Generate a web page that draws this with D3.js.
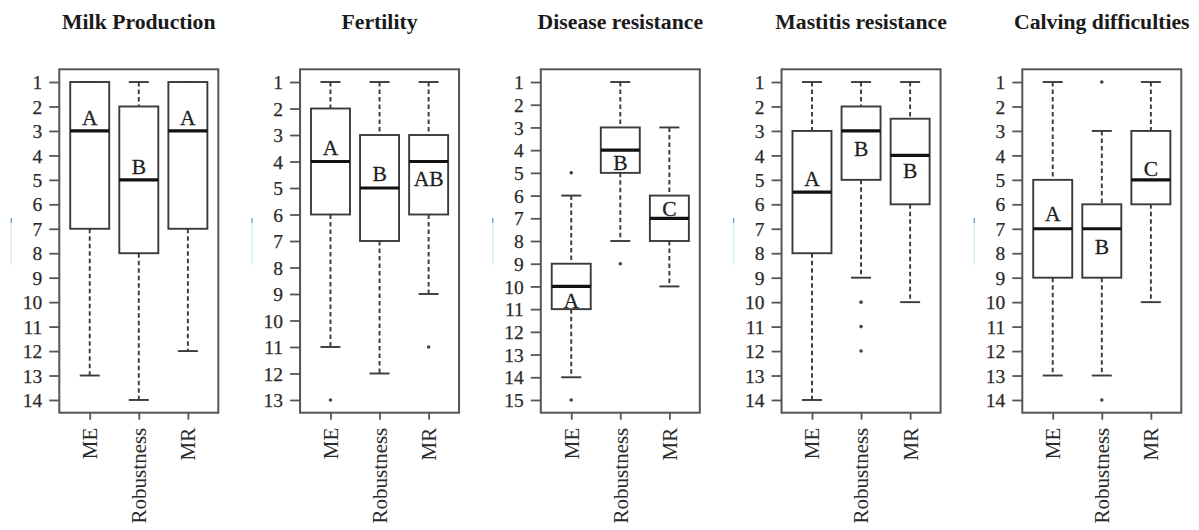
<!DOCTYPE html>
<html>
<head>
<meta charset="utf-8">
<script src="https://cdn.jsdelivr.net/npm/d3@7"></script>
<style>
  html, body { margin: 0; padding: 0; background: #fff; }
  svg text { font-family: "Liberation Serif", "Times New Roman", serif; }
</style>
</head>
<body>
<svg id="chart" width="1199" height="530"></svg>
<script>
// Trait panels and the three breeding-goal groups compared in each
const traits = ["Milk Production", "Fertility", "Disease resistance", "Mastitis resistance", "Calving difficulties"];
const groups = ["ME", "Robustness", "MR"];
// Largest rank shown on each panel's axis (ranks run 1..max, 1 at the top)
const rankMax = [14, 13, 15, 14, 14];

// Box statistics per group: [upper whisker end, upper hinge, median, lower hinge, lower whisker end]
const milkStats      = [[1, 1, 3, 7, 13], [1, 2, 5, 8, 14], [1, 1, 3, 7, 12]];
const fertilityStats = [[1, 2, 4, 6, 11], [1, 3, 5, 7, 12], [1, 3, 4, 6, 9]];
const diseaseStats   = [[6, 9, 10, 11, 14], [1, 3, 4, 5, 8], [3, 6, 7, 8, 10]];
const mastitisStats  = [[1, 3, 5.5, 8, 14], [1, 2, 3, 5, 9], [1, 2.5, 4, 6, 10]];
const calvingStats   = [[1, 5, 7, 9, 13], [3, 6, 7, 9, 13], [1, 3, 5, 6, 10]];

// Outlying ranks per group
const milkOutliers      = [[], [], []];
const fertilityOutliers = [[13], [], [11]];
const diseaseOutliers   = [[5, 15], [9], []];
const mastitisOutliers  = [[], [10, 11, 12], []];
const calvingOutliers   = [[], [1, 14], []];

// Significance letters and the rank at which each letter sits (baseline)
const milkLetters      = ["A", "B", "A"];
const fertilityLetters = ["A", "B", "AB"];
const diseaseLetters   = ["A", "B", "C"];
const mastitisLetters  = ["A", "B", "B"];
const calvingLetters   = ["A", "B", "C"];
const milkLetterRank      = [2.77, 4.75, 2.77];
const fertilityLetterRank = [3.74, 4.73, 4.94];
const diseaseLetterRank   = [10.93, 4.86, 6.92];
const mastitisLetterRank  = [5.27, 4.04, 4.93];
const calvingLetterRank   = [6.70, 8.04, 4.86];

const allStats = [milkStats, fertilityStats, diseaseStats, mastitisStats, calvingStats];
const allOutliers = [milkOutliers, fertilityOutliers, diseaseOutliers, mastitisOutliers, calvingOutliers];
const allLetters = [milkLetters, fertilityLetters, diseaseLetters, mastitisLetters, calvingLetters];
const allLetterRank = [milkLetterRank, fertilityLetterRank, diseaseLetterRank, mastitisLetterRank, calvingLetterRank];

// Layout
const svg = d3.select("#chart");
const panelStep = 240.75;
const plotLeft0 = 59.3, plotW = 159, plotTop = 69.3, plotH = 343.4;
const boxW = 39, stapleW = 20;
const ink = "#3a3a3a";
const serif = "'Liberation Serif', 'Times New Roman', serif";

traits.forEach((trait, p) => {
  const left = plotLeft0 + p * panelStep;
  const g = svg.append("g");

  // R-style 4% padding around the data range
  const ymax = rankMax[p];
  const pad = 0.04 * (ymax - 1);
  const y = d3.scaleLinear().domain([1 - pad, ymax + pad]).range([plotTop, plotTop + plotH]);
  const x = d3.scaleLinear().domain([0.5 - 0.12, 3.5 + 0.12]).range([left, left + plotW]);

  // Title
  g.append("text")
    .attr("transform", `translate(${left + plotW / 2},28.5) scale(1.06,1)`)
    .attr("text-anchor", "middle")
    .style("font-family", serif)
    .attr("font-size", 20.5)
    .attr("font-weight", "bold")
    .attr("fill", "#1a1a1a")
    .text(trait);

  // Left axis
  const yAxis = d3.axisLeft(y).tickValues(d3.range(1, ymax + 1)).tickSize(10).tickPadding(7).tickFormat(d3.format("d"));
  const ya = g.append("g").attr("transform", `translate(${left},0)`).call(yAxis);
  ya.attr("font-family", null);
  ya.select(".domain").remove();
  ya.selectAll(".tick line").attr("stroke", "#555").attr("stroke-width", 1.8);
  ya.selectAll(".tick text")
    .style("font-family", serif).style("font-size", "19.5px")
    .attr("fill", "#2a2a2a").attr("stroke", "#2a2a2a").attr("stroke-width", 0.25)
    .attr("dy", "0.34em");

  // Bottom axis with rotated group names
  const xAxis = d3.axisBottom(x).tickValues([1, 2, 3]).tickSize(7).tickPadding(8).tickFormat((d) => groups[d - 1]);
  const xa = g.append("g").attr("transform", `translate(0,${plotTop + plotH})`).call(xAxis);
  xa.attr("font-family", null);
  xa.select(".domain").remove();
  xa.selectAll(".tick line").attr("stroke", "#555").attr("stroke-width", 1.8);
  xa.selectAll(".tick text")
    .style("font-family", serif).style("font-size", "21px")
    .attr("fill", "#2a2a2a")
    .attr("text-anchor", "end")
    .attr("transform", "rotate(-90)")
    .attr("x", -15).attr("y", 0).attr("dy", "0.33em");

  // Plot frame
  g.append("rect")
    .attr("x", left).attr("y", plotTop).attr("width", plotW).attr("height", plotH)
    .attr("fill", "none").attr("stroke", "#555").attr("stroke-width", 2);

  // Faint leftover axis-title stroke at the far left of each panel
  g.append("line")
    .attr("x1", left - 48).attr("x2", left - 48).attr("y1", 219).attr("y2", 265)
    .attr("stroke", "#d2eef6").attr("stroke-width", 1.4);
  g.append("line")
    .attr("x1", left - 48).attr("x2", left - 48).attr("y1", 218).attr("y2", 223)
    .attr("stroke", "#6a9ab8").attr("stroke-width", 1.2);

  allStats[p].forEach((s, i) => {
    const cx = x(i + 1);
    const [wTop, hTop, med, hBot, wBot] = s;
    const bg = g.append("g");

    // Dashed whiskers
    [[wTop, hTop], [hBot, wBot]].forEach(([a, b]) => {
      if (a !== b) {
        bg.append("line").attr("x1", cx).attr("x2", cx).attr("y1", y(a)).attr("y2", y(b))
          .attr("stroke", ink).attr("stroke-width", 1.9).attr("stroke-dasharray", "4.5,3");
      }
    });
    // Staples
    [wTop, wBot].forEach((v) => {
      bg.append("line").attr("x1", cx - stapleW / 2).attr("x2", cx + stapleW / 2)
        .attr("y1", y(v)).attr("y2", y(v)).attr("stroke", ink).attr("stroke-width", 1.9);
    });
    // Box
    bg.append("rect").attr("x", cx - boxW / 2).attr("width", boxW)
      .attr("y", y(hTop)).attr("height", y(hBot) - y(hTop))
      .attr("fill", "#fff").attr("stroke", ink).attr("stroke-width", 1.9);
    // Median
    bg.append("line").attr("x1", cx - boxW / 2).attr("x2", cx + boxW / 2)
      .attr("y1", y(med)).attr("y2", y(med)).attr("stroke", "#111").attr("stroke-width", 3.2);
    // Outliers
    bg.selectAll("circle.out").data(allOutliers[p][i]).enter().append("circle")
      .attr("class", "out").attr("cx", cx).attr("cy", (d) => y(d)).attr("r", 1.8).attr("fill", "#444");
    // Group letter
    bg.append("text").attr("x", cx).attr("y", y(allLetterRank[p][i]))
      .attr("text-anchor", "middle")
      .style("font-family", serif).attr("font-size", 21.5)
      .attr("fill", "#1f1f1f").attr("stroke", "#1f1f1f").attr("stroke-width", 0.3)
      .text(allLetters[p][i]);
  });
});
</script>
</body>
</html>
